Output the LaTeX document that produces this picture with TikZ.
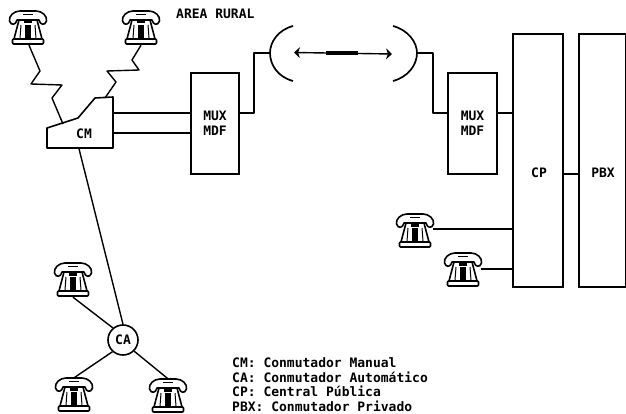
\documentclass[tikz,border=0pt]{standalone}
\usepackage{fontspec}
\setmainfont{DejaVu Sans Mono}
\usetikzlibrary{arrows.meta}
\tikzset{
  x=1pt,y=-1pt,
  wire/.style={line width=1.4pt,line join=round},
  box/.style={draw,line width=1.6pt,inner sep=0pt,font=\bfseries\fontsize{13}{14.5}\selectfont,align=center},
  phonenode/.style={minimum width=38pt,minimum height=34pt,inner sep=0pt},
  lbl/.style={font=\bfseries\fontsize{13}{14.5}\selectfont,inner sep=0pt},
  phone/.pic={
    \begin{scope}[line width=1.6pt,line join=round]
    \draw[fill=white] (-18.5,-7) .. controls (-19.5,-12) and (-14,-17) .. (-8,-17) -- (8,-17) .. controls (14,-17) and (19.5,-12) .. (18.5,-7) .. controls (17,-2) and (12,-3) .. (11,-8) -- (-11,-8) .. controls (-12,-3) and (-17,-2) .. (-18.5,-7) -- cycle;
    \draw[fill=white] (-9,-8) -- (9,-8) -- (14,11) -- (-14,11) -- cycle;
    \draw[fill=white,rounded corners=1pt] (-15.5,11) rectangle (15.5,16);
    \fill (-3,-3) rectangle (3,10);
    \draw[line width=1pt] (-7,-3) -- (-8,10) (7,-3) -- (8,10);
    \draw[line width=1.2pt] (-5,-13.5) -- (5,-13.5);
    \fill (-4,-8) rectangle (4,-4.5);
    \end{scope}
  }
}
\newcommand{\phoneat}[2]{\node[phonenode] (#1) at (#2) {}; \pic at (#1) {phone};}
\begin{document}
\begin{tikzpicture}
\useasboundingbox (0,0) rectangle (626,414);
\phoneat{pa}{28,28}
\phoneat{pb}{141,28}
\phoneat{pc}{73,280}
\phoneat{pd}{74,395}
\phoneat{pe}{168,396}
\phoneat{pf}{415,231}
\phoneat{pg}{463,270}
% CM
\node[inner sep=0pt,minimum width=66pt,minimum height=51pt] (cm) at (79,123) {};
\draw[line width=1.6pt,line join=round] (47,128) -- (78,118) -- (95,98) -- (113,97) -- (113,148) -- (47,148) -- cycle;
\node[lbl] at (84,134) {CM};
\node[box,minimum width=48pt,minimum height=101pt] (mux1) at (215,123.5) {MUX\\MDF};
\node[box,minimum width=49pt,minimum height=101pt] (mux2) at (472.5,123.5) {MUX\\MDF};
\node[box,minimum width=50pt,minimum height=253pt] (cp) at (538,160.5) {};
\node[box,minimum width=47pt,minimum height=253pt] (pbx) at (602.5,160.5) {};
\node[lbl] at (539,173) {CP};
\node[lbl] at (603,173) {PBX};
\node[box,circle,minimum size=30pt] (ca) at (123,340) {CA};
\coordinate (sl) at (270,53);
\coordinate (sr) at (417,53);
\coordinate (al) at (294,52.5);
\coordinate (ar) at (392,54);
% connectors
\draw[wire] (pa.south) ++(1,0) -- (40,71) -- (31,84) -- (62,85) -- (52,98) -- (63,124);
\draw[wire] (pb.south) -- (132,60) -- (139,70) -- (107,71) -- (116,82) -- (105,98);
\draw[wire] (113,113) -- (mux1.west |- 0,113);
\draw[wire] (113,133) -- (mux1.west |- 0,133);
\draw[wire] (mux1.east |- 0,113) -- (254,113) -- (254,53) -- (sl);
\draw[wire] (sr) -- (433,53) -- (433,113) -- (mux2.west |- 0,113);
\draw[wire] (mux2.east |- 0,113) -- (cp.west |- 0,113);
\draw[wire] (cp.east |- 0,174) -- (pbx.west |- 0,174);
\draw[wire] (cm.south) -- (ca.north);
\draw[wire] (pc.south) -- (ca.130);
\draw[wire] (ca.228) -- (pd.north);
\draw[wire] (ca.-45) -- (pe.north);
\draw[wire] (pf.east) ++(-1,-2) -- (cp.west |- 0,229);
\draw[wire] (pg.east) ++(-1,-1) -- (cp.west |- 0,269);
% satellite
\draw[line width=1.7pt] (293,26) .. controls (278,30) and (270,42) .. (sl) .. controls (270,65) and (278,77) .. (293,81);
\draw[line width=1.7pt] (393,26) .. controls (408,30) and (417,42) .. (sr) .. controls (417,65) and (408,77) .. (393,81);
\draw[line width=1.4pt,{Stealth[length=6pt,width=11pt]}-{Stealth[length=6pt,width=11pt]}] (al) -- (ar);
\draw[line width=3.5pt] (326,53) -- (358,53);
\node[lbl,anchor=west] (t) at (176,14) {AREA RURAL};
\node[lbl,anchor=west,align=left] (leg) at (232,384.5) {CM: Conmutador Manual\\CA: Conmutador Automático\\CP: Central Pública\\PBX: Conmutador Privado};
\end{tikzpicture}
\end{document}
